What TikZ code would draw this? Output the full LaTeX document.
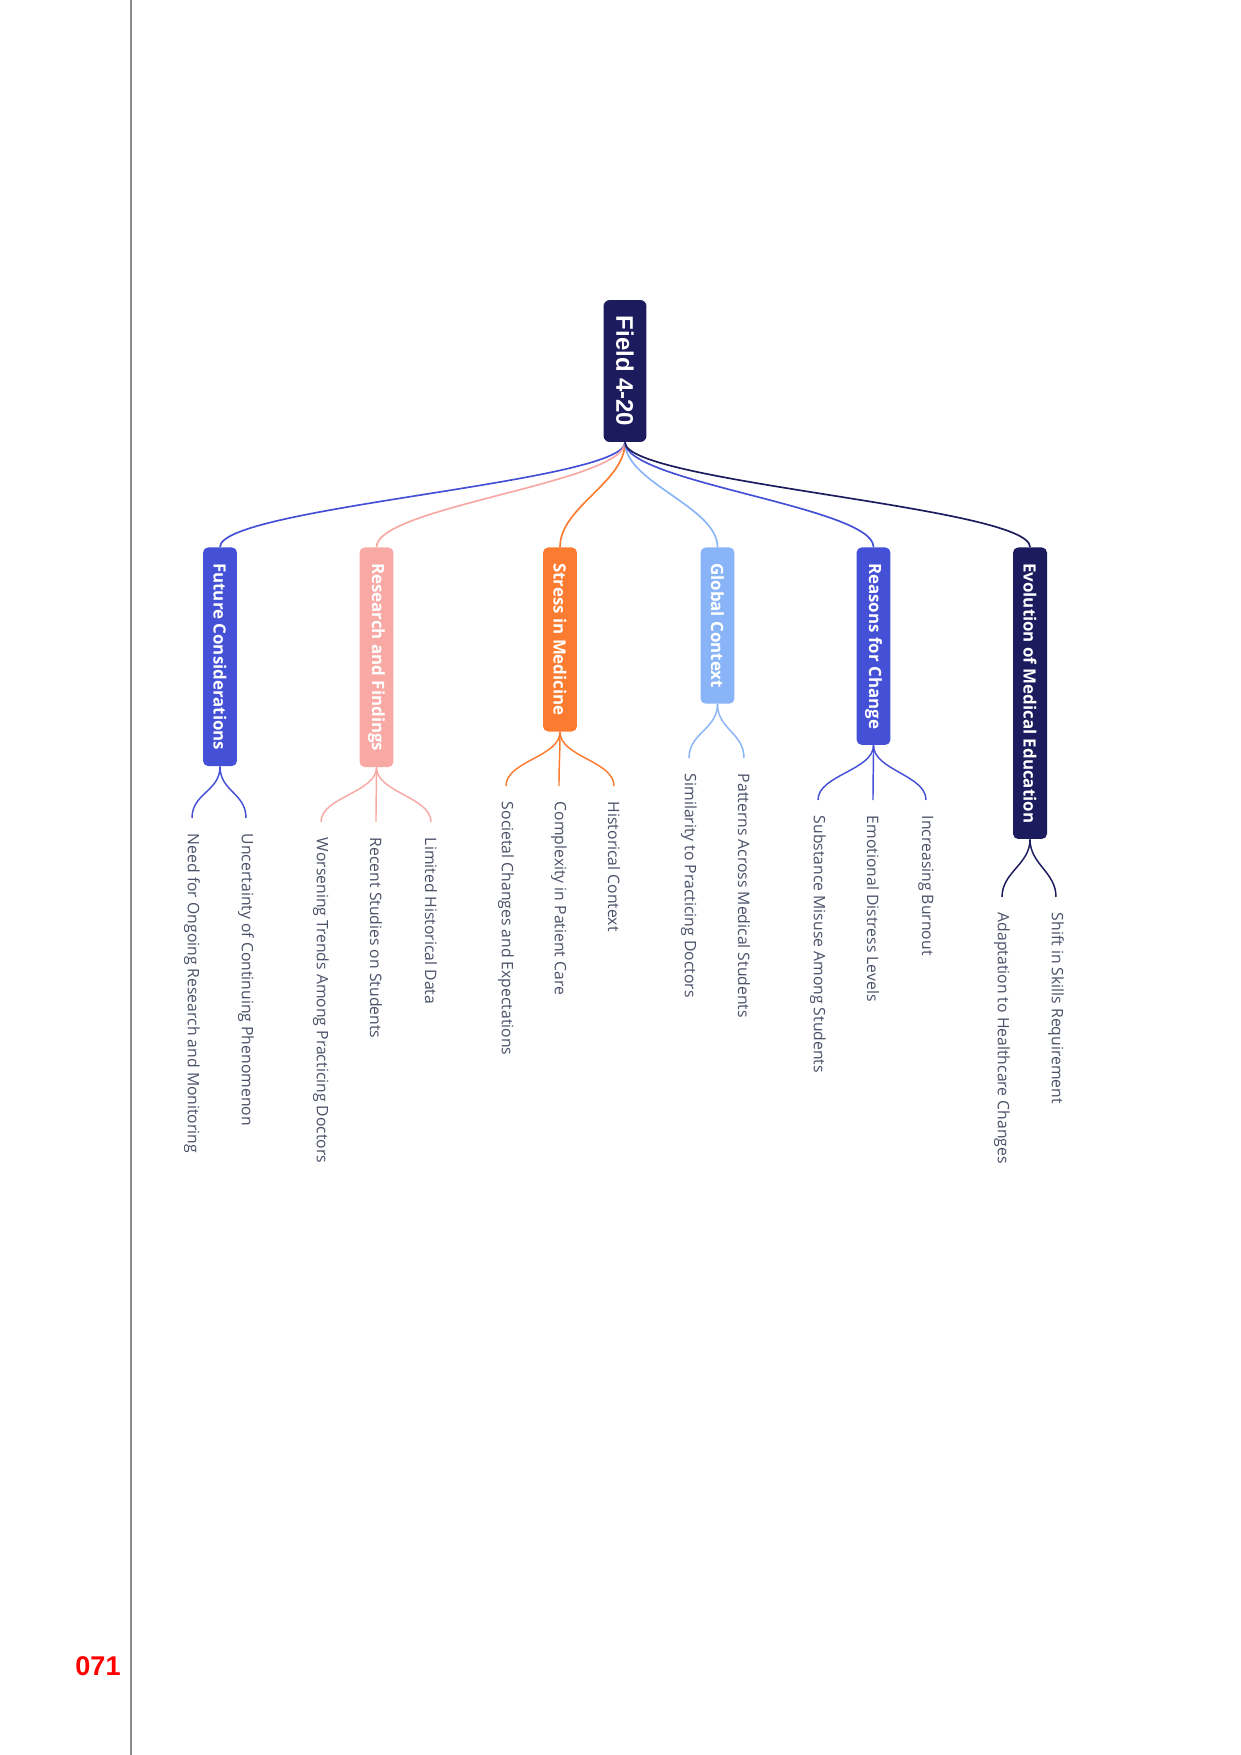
\documentclass[tikz,border=0pt]{standalone}
\usepackage{fontspec}
\setmainfont{Open Sans}
\newfontfamily\arialfont{Liberation Sans}
\usetikzlibrary{calc}
\definecolor{navyc}{HTML}{1C1B5E}
\definecolor{royalc}{HTML}{4450D6}
\definecolor{salmonc}{HTML}{F8A9A4}
\definecolor{orangec}{HTML}{FB7B31}
\definecolor{skyc}{HTML}{89B5F8}
\definecolor{leafc}{HTML}{4A5068}
\definecolor{rulec}{HTML}{8C8C8C}
\tikzset{
  rootbox/.style={rotate=-90, fill=navyc, text=white, rounded corners=3pt,
    minimum width=68.1pt, minimum height=20.6pt, inner sep=0pt,
    font=\arialfont\bfseries\fontsize{11.5}{13}\selectfont},
  branchbox/.style={rotate=-90, anchor=west, rounded corners=2.5pt,
    minimum height=16.3pt, inner xsep=7.6pt, inner ysep=0pt, text=white,
    font=\bfseries\fontsize{8.1}{9.5}\selectfont},
  leafbox/.style={rotate=-90, anchor=west, inner xsep=7.4pt, inner ysep=1pt,
    text=leafc, font=\fontsize{7.55}{9}\selectfont},
  rootlink/.style={line width=0.8pt},
  leaflink/.style={line width=0.7pt}
}
\begin{document}
\begin{tikzpicture}[x=0.4797pt,y=-0.4797pt]
\useasboundingbox (0,0) rectangle (1241,1755);
\fill[white] (0,0) rectangle (1241,1755);
% page rule and page number
\coordinate (ruletop) at (131,0);
\coordinate (rulebot) at (131,1755);
\draw[rulec, line width=0.5pt] (ruletop) -- (rulebot);
\node[text=red, font=\arialfont\bfseries\fontsize{13}{15}\selectfont] (pagenum) at (98,1666) {071};

% root
\node[rootbox] (root) at (625,371) {Field 4-20};

% branches
\node[branchbox, fill=royalc]  (fut) at (220,547)   {Future Considerations};
\node[branchbox, fill=salmonc] (res) at (376.5,547) {Research and Findings};
\node[branchbox, fill=orangec] (str) at (560,547)   {Stress in Medicine};
\node[branchbox, fill=skyc]    (glo) at (717.5,547) {Global Context};
\node[branchbox, fill=royalc]  (rea) at (873.5,547) {Reasons for Change};
\node[branchbox, fill=navyc]   (evo) at (1030,547)  {Evolution of Medical Education};

% root links
\draw[rootlink, royalc]  (root.east) .. controls +(0,40) and +(0,-40) .. (fut.west);
\draw[rootlink, salmonc] (root.east) .. controls +(0,40) and +(0,-40) .. (res.west);
\draw[rootlink, orangec] (root.east) .. controls +(0,40) and +(0,-40) .. (str.west);
\draw[rootlink, skyc]    (root.east) .. controls +(0,40) and +(0,-40) .. (glo.west);
\draw[rootlink, royalc]  (root.east) .. controls +(0,40) and +(0,-40) .. (rea.west);
\draw[rootlink, navyc]   (root.east) .. controls +(0,40) and +(0,-40) .. (evo.west);

% leaves
\node[leafbox] (f1) at (192,818) {Need for Ongoing Research and Monitoring};
\node[leafbox] (f2) at (246,818) {Uncertainty of Continuing Phenomenon};
\node[leafbox] (r1) at (321,822) {Worsening Trends Among Practicing Doctors};
\node[leafbox] (r2) at (376,822) {Recent Studies on Students};
\node[leafbox] (r3) at (431,822) {Limited Historical Data};
\node[leafbox] (s1) at (506,786) {Societal Changes and Expectations};
\node[leafbox] (s2) at (559,786) {Complexity in Patient Care};
\node[leafbox] (s3) at (614,786) {Historical Context};
\node[leafbox] (g1) at (689,758) {Similarity to Practicing Doctors};
\node[leafbox] (g2) at (744,758) {Patterns Across Medical Students};
\node[leafbox] (e1) at (818,800) {Substance Misuse Among Students};
\node[leafbox] (e2) at (873,800) {Emotional Distress Levels};
\node[leafbox] (e3) at (926,800) {Increasing Burnout};
\node[leafbox] (v1) at (1002,897) {Adaptation to Healthcare Changes};
\node[leafbox] (v2) at (1056,897) {Shift in Skills Requirement};

% leaf links
\foreach \p/\c/\col in {fut/f1/royalc, fut/f2/royalc,
  res/r1/salmonc, res/r2/salmonc, res/r3/salmonc,
  str/s1/orangec, str/s2/orangec, str/s3/orangec,
  glo/g1/skyc, glo/g2/skyc,
  rea/e1/royalc, rea/e2/royalc, rea/e3/royalc,
  evo/v1/navyc, evo/v2/navyc}
  \draw[leaflink, \col] (\p.east) .. controls +(0,25) and +(0,-25) .. (\c.west);
\end{tikzpicture}
\end{document}
